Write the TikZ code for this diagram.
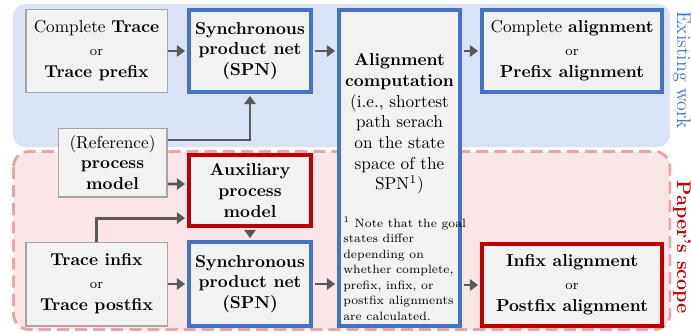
\documentclass[tikz,border=0pt]{standalone}
\usetikzlibrary{arrows.meta}
\definecolor{bluebg}{HTML}{DAE3F3}
\definecolor{pinkbg}{HTML}{F9E5E6}
\definecolor{pinkdash}{HTML}{E9A6A8}
\definecolor{boxfill}{HTML}{F2F2F2}
\definecolor{boxgray}{HTML}{A6A6A6}
\definecolor{myblue}{HTML}{4472C4}
\definecolor{myred}{HTML}{C00000}
\definecolor{arrgray}{HTML}{595959}
\tikzset{
  plainbox/.style={draw=boxgray, line width=0.6pt, fill=boxfill, inner sep=0pt, align=center},
  bluebox/.style={draw=myblue, line width=2.3pt, fill=boxfill, inner sep=0pt, align=center},
  redbox/.style={draw=myred, line width=2.3pt, fill=boxfill, inner sep=0pt, align=center},
  arr/.style={draw=arrgray, line width=1.7pt, -{Triangle[length=4.8pt,width=6.6pt]}},
  sidelabel/.style={rotate=-90, anchor=base, inner sep=0pt, font=\fontsize{11.5}{14}\selectfont}
}
\begin{document}
\begin{tikzpicture}[x=0.58pt, y=-0.58pt]
\useasboundingbox (0,0) rectangle (691,333);
% regions
\fill[bluebg, rounded corners=7pt] (13,4) rectangle (670,147);
\draw[pinkdash, fill=pinkbg, line width=1.7pt, dash pattern=on 7pt off 3.5pt, rounded corners=9pt] (13.5,151.5) rectangle (670,329.5);
% nodes
\node[plainbox, minimum width=81.8pt, minimum height=47.6pt] (trace) at (96.5,51)
  {Complete \textbf{Trace}\\[1pt]{\footnotesize or}\\[1pt]\textbf{Trace prefix}};
\node[bluebox, minimum width=70.8pt, minimum height=47.6pt] (spn1) at (250,51)
  {\textbf{Synchronous}\\\textbf{product net}\\\textbf{(SPN)}};
\node[bluebox, minimum width=70.2pt, minimum height=183.3pt] (align) at (399.5,168) {};
\node[inner sep=0pt, align=center] (atext) at (399.5,124)
  {\textbf{Alignment}\\\textbf{computation}\\(i.e., shortest\\path serach\\on the state\\space of the\\SPN\textsuperscript{1})};
\node[inner sep=0pt, anchor=west, align=left, font=\fontsize{7}{9}\selectfont] (fn) at (343,268.5)
  {\textsuperscript{1} Note that the goal\\states differ\\depending on\\whether complete,\\prefix, infix, or\\postfix alignments\\are calculated.};
\node[bluebox, minimum width=104.4pt, minimum height=47.6pt] (compl) at (572,51)
  {Complete \textbf{alignment}\\[1pt]{\footnotesize or}\\[1pt]\textbf{Prefix alignment}};
\node[plainbox, minimum width=63.2pt, minimum height=40pt] (ref) at (112.5,162.5)
  {(Reference)\\\textbf{process}\\\textbf{model}};
\node[redbox, minimum width=70.8pt, minimum height=41.2pt] (aux) at (250,190.5)
  {\textbf{Auxiliary}\\\textbf{process}\\\textbf{model}};
\node[plainbox, minimum width=81.8pt, minimum height=48.7pt] (infix) at (96.5,284)
  {\textbf{Trace infix}\\[1pt]{\footnotesize or}\\[1pt]\textbf{Trace postfix}};
\node[bluebox, minimum width=70.8pt, minimum height=48.7pt] (spn2) at (250,284)
  {\textbf{Synchronous}\\\textbf{product net}\\\textbf{(SPN)}};
\node[redbox, minimum width=104.4pt, minimum height=47.6pt] (infixal) at (572,285)
  {\textbf{Infix alignment}\\[1pt]{\footnotesize or}\\[1pt]\textbf{Postfix alignment}};
% side labels
\node[sidelabel, text=myblue] (lblexist) at (677,70.5) {Existing work};
\node[sidelabel, text=myred] (lblscope) at (677,247.5) {\textbf{Paper's scope}};
% connectors
\draw[arr, shorten >=1.1pt] (trace.east) -- (spn1.west);
\draw[arr, shorten <=1.1pt, shorten >=1.1pt] (spn1.east) -- (spn1.east -| align.west);
\draw[arr, shorten <=1.1pt, shorten >=1.1pt] (align.east |- compl.west) -- (compl.west);
\draw[arr, shorten >=1.1pt] ([yshift=13.05pt]ref.east) -| (spn1.south);
\draw[arr, shorten >=1.1pt] ([yshift=-12.47pt]ref.east) -- ([yshift=3.77pt]aux.west);
\draw[arr, shorten >=1.1pt] (infix.north) |- ([yshift=-16pt]aux.west);
\draw[arr, shorten <=1.1pt, shorten >=1.1pt] (aux.south) -- (spn2.north);
\draw[arr, shorten >=1.1pt] (infix.east) -- (spn2.west);
\draw[arr, shorten <=1.1pt, shorten >=1.1pt] (spn2.east) -- (spn2.east -| align.west);
\draw[arr, shorten <=1.1pt, shorten >=1.1pt] (align.east |- infixal.west) -- (infixal.west);
\end{tikzpicture}
\end{document}
